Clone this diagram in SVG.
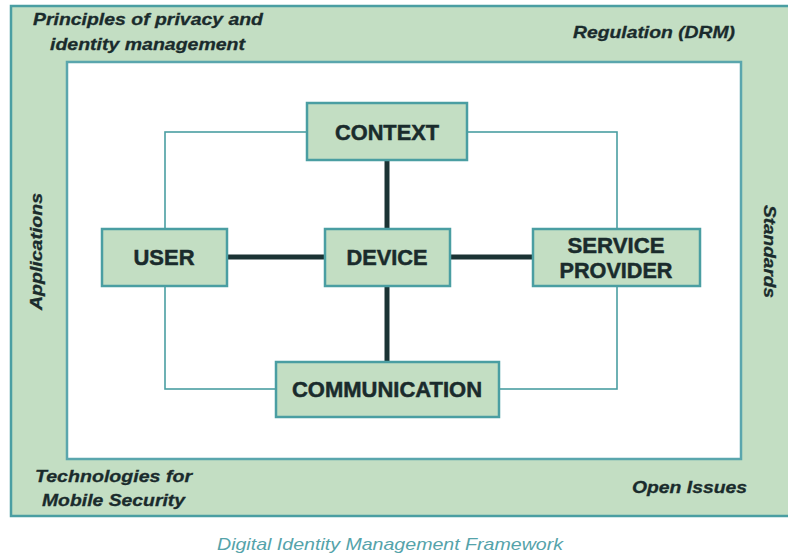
<svg xmlns="http://www.w3.org/2000/svg" width="788" height="559" viewBox="0 0 788 559">
  <style>
    .frame { fill: #c3dec3; stroke: #4a9ea2; stroke-width: 2.5; }
    .inner { fill: #ffffff; stroke: #5aa6ad; stroke-width: 2.5; }
    .box { fill: #c3dec3; stroke: #4a9ea2; stroke-width: 2.5; }
    .thin { fill: none; stroke: #4a9ea2; stroke-width: 1.6; }
    .thick { fill: none; stroke: #1b3334; stroke-width: 5; }
    .lbl { font-family: "Liberation Sans", Arial, sans-serif; font-weight: bold; font-size: 22px; fill: #1a2b2c; stroke: #1a2b2c; stroke-width: 0.5; text-anchor: middle; }
    .corner { font-family: "Liberation Sans", Arial, sans-serif; font-weight: bold; font-style: italic; font-size: 17px; fill: #1a2b2c; stroke: #1a2b2c; stroke-width: 0.3; }
    .caption { font-family: "Liberation Sans", Arial, sans-serif; font-style: italic; font-size: 17px; fill: #55a3aa; }
  </style>

  <!-- outer framework band -->
  <rect class="frame" x="11" y="6" width="790" height="510"/>
  <!-- central white area -->
  <rect class="inner" x="67" y="62" width="674" height="397"/>

  <!-- band labels -->
  <g id="band-labels">
    <text class="corner" x="33" y="25" textLength="230" lengthAdjust="spacingAndGlyphs">Principles of privacy and</text>
    <text class="corner" x="50" y="50" textLength="195" lengthAdjust="spacingAndGlyphs">identity management</text>
    <text class="corner" x="573" y="38" textLength="162" lengthAdjust="spacingAndGlyphs">Regulation (DRM)</text>
    <text class="corner" transform="translate(42,310) rotate(-90)" x="0" y="0" textLength="117" lengthAdjust="spacingAndGlyphs">Applications</text>
    <text class="corner" transform="translate(764,205) rotate(90)" x="0" y="0" textLength="93" lengthAdjust="spacingAndGlyphs">Standards</text>
    <text class="corner" x="35" y="482" textLength="157" lengthAdjust="spacingAndGlyphs">Technologies for</text>
    <text class="corner" x="42" y="506" textLength="143" lengthAdjust="spacingAndGlyphs">Mobile Security</text>
    <text class="corner" x="632" y="493" textLength="115" lengthAdjust="spacingAndGlyphs">Open Issues</text>
  </g>

  <!-- connectors -->
  <g id="connectors">
    <!-- thin outer loop through context, user, service provider and communication -->
    <rect class="thin" x="165" y="132" width="452" height="257"/>
    <!-- thick spokes from the device -->
    <line class="thick" x1="387" y1="160" x2="387" y2="229"/>
    <line class="thick" x1="387" y1="286" x2="387" y2="362"/>
    <line class="thick" x1="227" y1="257" x2="325" y2="257"/>
    <line class="thick" x1="450" y1="257" x2="533" y2="257"/>
  </g>

  <g id="context">
    <rect class="box" x="307" y="103" width="160" height="57"/>
    <text class="lbl" x="387" y="140" textLength="104" lengthAdjust="spacingAndGlyphs">CONTEXT</text>
  </g>

  <g id="user">
    <rect class="box" x="102" y="229" width="125" height="57"/>
    <text class="lbl" x="164" y="265" textLength="61" lengthAdjust="spacingAndGlyphs">USER</text>
  </g>

  <g id="device">
    <rect class="box" x="325" y="229" width="125" height="57"/>
    <text class="lbl" x="387" y="265" textLength="81" lengthAdjust="spacingAndGlyphs">DEVICE</text>
  </g>

  <g id="service-provider">
    <rect class="box" x="533" y="229" width="167" height="57"/>
    <text class="lbl" x="616" y="253" textLength="97" lengthAdjust="spacingAndGlyphs">SERVICE</text>
    <text class="lbl" x="616" y="278" textLength="113" lengthAdjust="spacingAndGlyphs">PROVIDER</text>
  </g>

  <g id="communication">
    <rect class="box" x="276" y="362" width="223" height="55"/>
    <text class="lbl" x="387" y="397" textLength="190" lengthAdjust="spacingAndGlyphs">COMMUNICATION</text>
  </g>

  <text class="caption" x="217" y="550" textLength="346" lengthAdjust="spacingAndGlyphs">Digital Identity Management Framework</text>
</svg>
